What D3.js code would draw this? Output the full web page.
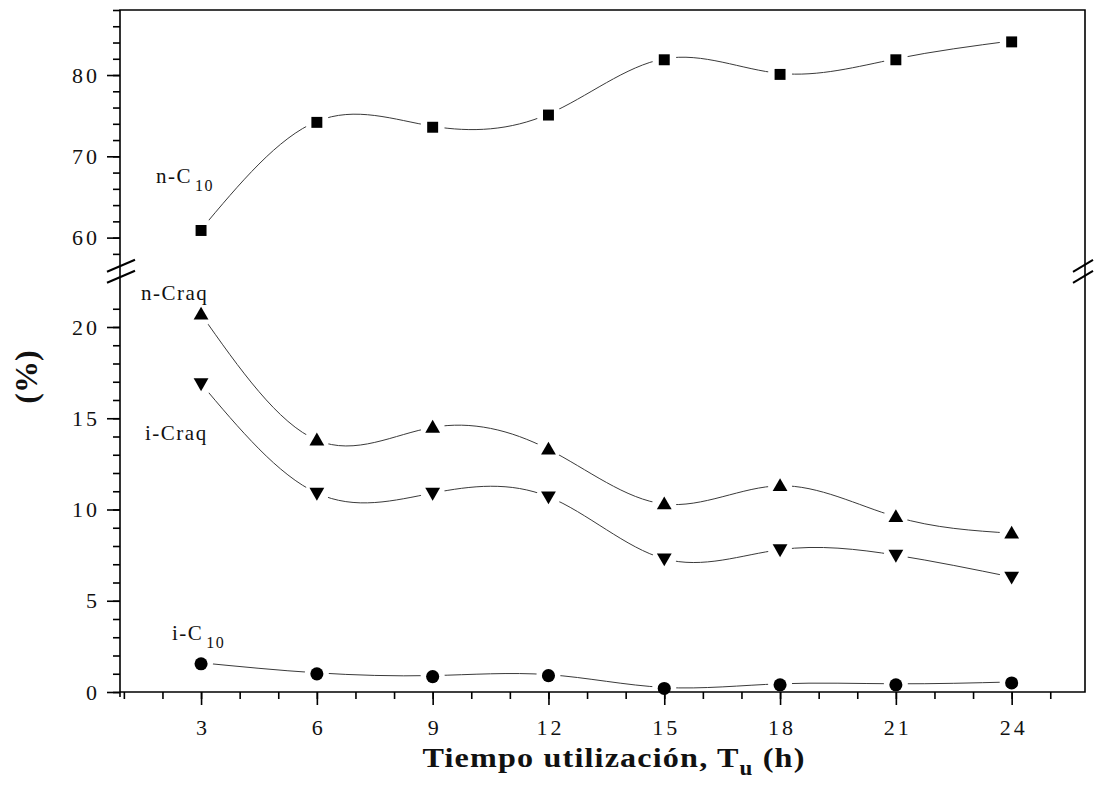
<!DOCTYPE html>
<html><head><meta charset="utf-8">
<script src="https://cdn.jsdelivr.net/npm/d3@7"></script>
<style>
body{margin:0;background:#fff}
svg{display:block}
text{font-family:"Liberation Serif","Times New Roman",serif;fill:#111}
</style>
</head><body>
<svg id="c" width="1094" height="793"></svg>
<script>
// ---- data ----
const times = [3, 6, 9, 12, 15, 18, 21, 24];
const nC10  = [61.0, 74.3, 73.7, 75.2, 82.0, 80.2, 82.0, 84.2];
const nCraq = [20.7, 13.8, 14.5, 13.3, 10.3, 11.3, 9.6, 8.7];
const iCraq = [16.9, 10.9, 10.9, 10.7, 7.3, 7.8, 7.5, 6.3];
const iC10  = [1.6, 1.05, 0.9, 0.95, 0.25, 0.45, 0.45, 0.55];
const xTickLabels = [3, 6, 9, 12, 15, 18, 21, 24];
const upperTickLabels = [60, 70, 80];
const lowerTickLabels = [0, 5, 10, 15, 20];

// ---- layout ----
const L = 120, R = 1085, T = 10, B = 692;
const svg = d3.select("#c");
const x = d3.scaleLinear().domain([0.9, 25.9]).range([L, R]);
const yU = d3.scaleLinear().domain([57, 88]).range([262, T]);
const yL = d3.scaleLinear().domain([0, 22.6]).range([B, B - 22.6 * 18.25]);

const line = (ys) => d3.line().x(d => x(d[0])).y(d => ys(d[1])).curve(d3.curveNatural);

const series = [
  {vals: nC10, y: yU, shape: d3.symbolSquare, size: 120, rot: 0},
  {vals: nCraq, y: yL, shape: d3.symbolTriangle, size: 95, rot: 0},
  {vals: iCraq, y: yL, shape: d3.symbolTriangle, size: 95, rot: 180},
  {vals: iC10, y: yL, shape: d3.symbolCircle, size: 135, rot: 0}
];

// lines
series.forEach(s => {
  const pts = times.map((t, i) => [t, s.vals[i]]);
  svg.append("path").attr("d", line(s.y)(pts))
    .attr("fill", "none").attr("stroke", "#3a3a3a").attr("stroke-width", 1);
});
// halos (gaps round markers)
series.forEach(s => {
  svg.append("g").selectAll("circle").data(times).join("circle")
    .attr("cx", d => x(d)).attr("cy", (d, i) => s.y(s.vals[i])).attr("r", 12).attr("fill", "#fff");
});
// markers
series.forEach(s => {
  svg.append("g").selectAll("path").data(times).join("path")
    .attr("d", d3.symbol().type(s.shape).size(s.size))
    .attr("transform", (d, i) => `translate(${x(d)},${s.y(s.vals[i]) + (s.rot ? -1 : 1)}) rotate(${s.rot})`)
    .attr("fill", "#000");
});

// ---- axes ----
function styleAxis(g) {
  g.select(".domain").remove();
  g.selectAll("line").attr("stroke", "#000").attr("stroke-width", 1.6);
  g.selectAll("text").style("font-family", '"Liberation Serif",serif').style("font-size", "22px")
    .style("letter-spacing", "3px").attr("fill", "#333");
}
// x axis
svg.append("g").attr("transform", `translate(0,${B})`)
  .call(d3.axisBottom(x).tickValues(d3.range(1, 26)).tickSize(7).tickFormat(""))
  .call(styleAxis);
const xa = svg.append("g").attr("transform", `translate(0,${B})`)
  .call(d3.axisBottom(x).tickValues(xTickLabels).tickSize(13).tickPadding(14))
  .call(styleAxis);
xa.selectAll("text").attr("dx", 1.5);
// upper y
svg.append("g").attr("transform", `translate(${L},0)`)
  .call(d3.axisLeft(yU).tickValues(d3.range(58, 89, 2)).tickSize(7).tickFormat(""))
  .call(styleAxis);
svg.append("g").attr("transform", `translate(${L},0)`)
  .call(d3.axisLeft(yU).tickValues(upperTickLabels).tickSize(13).tickPadding(7))
  .call(styleAxis);
// lower y
svg.append("g").attr("transform", `translate(${L},0)`)
  .call(d3.axisLeft(yL).tickValues(d3.range(0, 22)).tickSize(7).tickFormat(""))
  .call(styleAxis);
svg.append("g").attr("transform", `translate(${L},0)`)
  .call(d3.axisLeft(yL).tickValues(lowerTickLabels).tickSize(13).tickPadding(7))
  .call(styleAxis);

// frame
svg.append("path")
  .attr("d", `M${L},${B + 5}V${T}H${R}V${B}H${L}`)
  .attr("fill", "none").attr("stroke", "#000").attr("stroke-width", 1.6);

// break marks
const bY = (yU.range()[0] + yL.range()[1]) / 2;
[[L - 13, L + 15], [R - 12, R + 8]].forEach(([a, b]) => {
  [-5, 6].forEach(off => {
    svg.append("line").attr("x1", a).attr("y1", bY + off + 6).attr("x2", b).attr("y2", bY + off - 6)
      .attr("stroke", "#000").attr("stroke-width", 2);
  });
});

// series labels
function lab(px, py, main, sub) {
  const t = svg.append("text").attr("x", px).attr("y", py).style("font-size", "21px")
    .style("letter-spacing", "1.5px").attr("fill", "#333").text(main);
  if (sub) t.append("tspan").attr("dx", 3).attr("dy", 8).style("font-size", "16px").text(sub);
}
lab(156, 183, "n-C", "10");
lab(141, 300, "n-Craq");
lab(145, 440, "i-Craq");
lab(172, 640, "i-C", "10");

// axis titles
const xt = svg.append("text").attr("transform", "translate(614,767) scale(1.15,1)").attr("text-anchor", "middle")
  .style("font-size", "28px").style("font-weight", "bold").style("letter-spacing", "1px").attr("fill", "#111")
  .text("Tiempo utilización, T");
xt.append("tspan").attr("dy", 8).style("font-size", "20px").text("u");
xt.append("tspan").attr("dy", -8).text(" (h)");

svg.append("text").attr("transform", "translate(37,377) rotate(-90)").attr("text-anchor", "middle")
  .style("font-size", "32px").style("font-weight", "bold").attr("fill", "#111").text("(%)");
</script>
</body></html>
